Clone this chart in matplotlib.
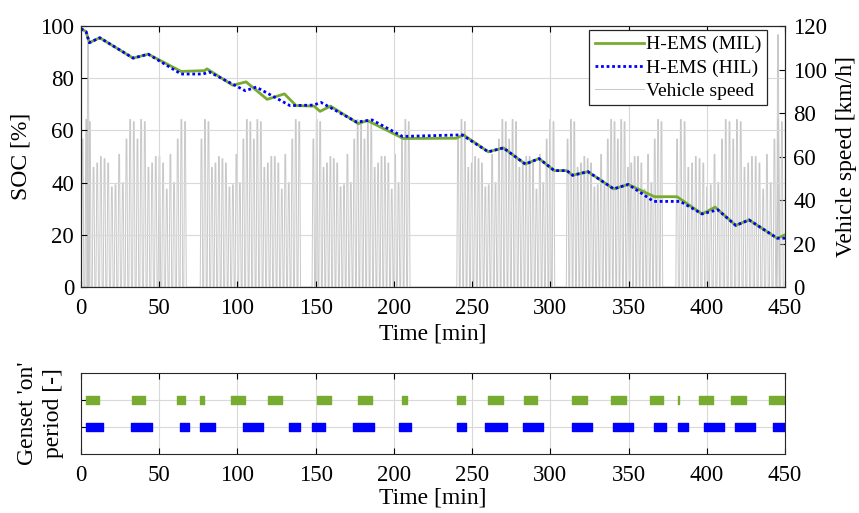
import numpy as np
import matplotlib
matplotlib.use('Agg')
import matplotlib.pyplot as plt

plt.rcParams['font.family'] = ['Liberation Serif', 'DejaVu Serif']

# SOC trajectories [%] vs time [min]
mil_t = [0, 3.3, 5.3, 12, 33.3, 43, 64, 79, 80.5, 97, 105.5, 119, 130, 137.5, 149,
         152.8, 159.5, 177.3, 183, 206, 240, 244.4, 260.3, 270, 284, 292.8, 302.5,
         310.5, 314.2, 324, 340.5, 349.8, 366.5, 381, 397, 405.3, 418.5, 427, 445, 450]
mil_soc = [99, 97.8, 93.6, 95.5, 87.7, 89.2, 82.6, 82.9, 83.6, 77.3, 78.6, 71.9, 74.0,
           69.5, 69.3, 67.3, 69.3, 62.6, 63.8, 56.9, 57.0, 58.3, 51.8, 53.3, 47.1, 49.2,
           44.6, 44.6, 42.8, 44.2, 37.6, 39.3, 34.6, 34.6, 28.0, 30.6, 23.6, 25.7, 18.7, 20.0]

hil_t = [0, 3.3, 5.3, 12, 33.3, 43, 64, 78, 82, 105, 112, 133.6, 148.5, 153.5, 176.2,
         186, 205.5, 243.5, 260.3, 270, 284, 292.8, 302.5, 310.5, 314.2, 324, 340.5,
         349.8, 366, 383, 397, 407, 418.5, 427, 445, 450]
hil_soc = [99, 97.8, 93.6, 95.5, 87.7, 89.2, 81.6, 81.6, 82.4, 75.2, 76.6, 69.5, 69.7,
           70.7, 63.2, 64.0, 57.7, 58.3, 51.8, 53.3, 47.1, 49.2, 44.6, 44.6, 42.8, 44.2,
           37.6, 39.3, 32.8, 32.8, 28.0, 29.6, 23.6, 25.7, 18.7, 18.7]

# vehicle speed: repeated drive cycle (peak speeds in km/h) over six blocks
cycle_peaks = [68, 77, 76, 55, 57, 60, 59, 57, 46, 47, 61, 48, 68, 77, 76,
               68, 77, 76, 55, 57, 60, 60, 57, 45, 61, 48, 68, 77, 76]
block_start = [1, 77, 148.5, 241, 311, 381]
block_end = [66.5, 139.5, 209.5, 302, 371, 448]
extra_t = [4.5, 445.5]
extra_v = [112, 116]

# genset 'on' periods [min]
mil_on_start = [3.2, 32.4, 61.2, 76.0, 95.7, 119.4, 150.7, 176.9, 205.4, 240.2, 260.0,
                283.0, 313.7, 338.9, 363.8, 381.3, 394.7, 415.6, 439.9]
mil_on_end = [11.5, 40.9, 66.5, 78.8, 104.9, 128.3, 159.8, 185.9, 208.6, 245.3, 269.6,
              291.6, 323.1, 348.3, 371.7, 382.4, 403.9, 425.2, 449.5]
hil_on_start = [3.2, 32.0, 63.3, 76.1, 103.4, 132.8, 147.5, 174.1, 203.3, 240.2, 258.3,
                282.8, 313.7, 339.9, 366.0, 381.3, 397.9, 418.2, 442.0]
hil_on_end = [14.3, 45.2, 68.9, 85.7, 116.6, 140.0, 156.0, 187.3, 211.0, 246.0, 272.2,
              295.6, 326.5, 353.1, 374.1, 387.7, 410.7, 431.0, 450.0]

green = '#77AC30'
blue = '#0000FF'
spd_col = '#c8c8c8'

# build speed trace
spikes = []
for s, e in zip(block_start, block_end):
    for tt, p in zip(np.linspace(s, e, len(cycle_peaks)), cycle_peaks):
        spikes.append((tt, p))
spikes += list(zip(extra_t, extra_v))
spikes.sort()
spd_t, spd_v = [], []
for tt, p in spikes:
    spd_t += [tt - 0.8, tt - 0.25, tt + 0.25, tt + 0.8]
    spd_v += [0, p, p, 0]

fig = plt.figure(figsize=(8.59, 5.13), dpi=100)
ax = fig.add_axes([0.0943, 0.4405, 0.8196, 0.5088])
ax2 = ax.twinx()

ax2.plot(spd_t, spd_v, color=spd_col, lw=0.7)
ax.set_zorder(ax2.get_zorder() + 1)
ax.patch.set_visible(False)
l1, = ax.plot(mil_t, mil_soc, color=green, lw=2.0, label='H-EMS (MIL)')
l2, = ax.plot(hil_t, hil_soc, color=blue, lw=2.0, ls=(0, (1, 1)), label='H-EMS (HIL)')
l3, = ax.plot([], [], color=spd_col, lw=0.7, label='Vehicle speed')

ax.set_xlim(0, 450)
ax.set_ylim(0, 100)
ax2.set_ylim(0, 120)
ax.set_xticks(np.arange(0, 451, 50))
ax.set_yticks(np.arange(0, 101, 20))
ax2.set_yticks(np.arange(0, 121, 20))
ax.grid(True, color='#d9d9d9', lw=0.8)
ax.set_axisbelow(True)
ax.tick_params(direction='in', labelsize=16.5, top=True, length=4)
ax.tick_params(axis='x', pad=8)
ax.tick_params(axis='y', pad=5)
ax2.tick_params(direction='in', labelsize=16.5, length=4, pad=6)
ax.set_xlabel('Time [min]', fontsize=17, labelpad=3)
ax.set_ylabel('SOC [%]', fontsize=17, labelpad=6)
ax2.set_ylabel('Vehicle speed [km/h]', fontsize=17, labelpad=6)
for a in (ax, ax2):
    for sp in a.spines.values():
        sp.set_color('#262626')

leg = ax.legend(handles=[l1, l2, l3], loc='upper right', bbox_to_anchor=(0.974, 0.985),
                fontsize=14, fancybox=False, framealpha=1, edgecolor='#262626',
                borderpad=0.3, labelspacing=0.28, handlelength=2.5, handletextpad=0.1,
                borderaxespad=0)
leg.get_frame().set_linewidth(0.9)

bx = fig.add_axes([0.0943, 0.1150, 0.8196, 0.1579])
bx.broken_barh([(s, e - s) for s, e in zip(mil_on_start, mil_on_end)], (1.87, 0.26),
               color=green)
bx.broken_barh([(s, e - s) for s, e in zip(hil_on_start, hil_on_end)], (0.85, 0.30),
               color=blue)
bx.set_xlim(0, 450)
bx.set_ylim(0, 3)
bx.set_xticks(np.arange(0, 451, 50))
bx.set_yticks([1, 2])
bx.set_yticklabels([])
bx.grid(True, color='#d9d9d9', lw=0.8)
bx.set_axisbelow(True)
bx.tick_params(direction='in', labelsize=16.5, top=True, right=True, length=4)
bx.tick_params(axis='x', pad=8)
bx.set_xlabel('Time [min]', fontsize=17, labelpad=1)
bx.set_ylabel("Genset 'on'\nperiod [-]", fontsize=17, labelpad=9, linespacing=1.3)
for sp in bx.spines.values():
    sp.set_color('#262626')

fig.savefig('out.png', dpi=100)
